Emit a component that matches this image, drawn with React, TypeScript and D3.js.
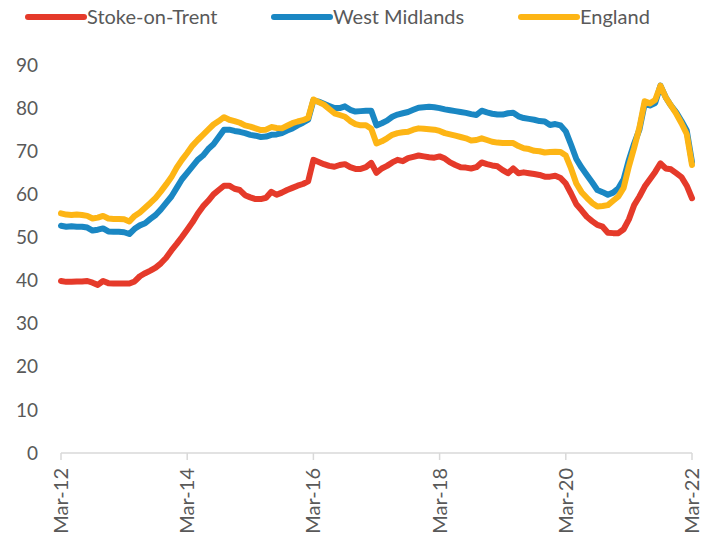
import React, { useEffect, useRef } from 'react';
import * as d3 from 'd3';

// monthly values, Mar-12 .. Mar-22 (121 months)
const stokeOnTrent: number[] = [
  39.9, 39.7, 39.7, 39.8, 39.8, 39.9, 39.5, 39.0, 39.9, 39.4, 39.3, 39.3, 39.3, 39.3, 39.8,
  41.0, 41.7, 42.3, 43.0, 44.0, 45.3, 47.0, 48.5, 50.1, 51.8, 53.5, 55.5, 57.2, 58.5, 60.0,
  61.0, 62.0, 62.0, 61.3, 61.0, 59.8, 59.3, 58.9, 58.9, 59.2, 60.6, 59.9, 60.4, 61.0, 61.5,
  62.0, 62.4, 63.0, 68.0, 67.5, 67.0, 66.6, 66.4, 66.8, 67.0, 66.3, 65.9, 65.9, 66.3, 67.3,
  65.0, 66.0, 66.6, 67.4, 68.0, 67.7, 68.4, 68.7, 69.0, 68.8, 68.6, 68.5, 68.8, 68.3, 67.4,
  66.8, 66.3, 66.2, 66.0, 66.3, 67.4, 67.0, 66.7, 66.5, 65.6, 64.9, 66.0, 64.9, 65.1, 64.9,
  64.7, 64.5, 64.1, 64.1, 64.3, 63.8, 62.5, 60.2, 57.7, 56.3, 54.8, 53.8, 52.9, 52.5, 51.1,
  51.0, 51.0, 51.9, 54.2, 57.5, 59.5, 61.8, 63.5, 65.2, 67.2, 66.0, 65.8, 64.9, 64.0, 62.0,
  59.1,
];

const westMidlands: number[] = [
  52.7, 52.5, 52.6, 52.5, 52.5, 52.3, 51.6, 51.8, 52.1, 51.4, 51.3, 51.3, 51.2, 50.8, 52.0,
  52.8, 53.3, 54.3, 55.2, 56.5, 58.0, 59.5, 61.5, 63.5, 65.0, 66.5, 68.0, 69.0, 70.5, 71.6,
  73.3, 75.0, 75.0, 74.7, 74.5, 74.2, 73.8, 73.6, 73.3, 73.4, 73.8, 73.9, 74.2, 74.8, 75.3,
  76.0, 76.6, 77.3, 81.8, 81.5, 81.0, 80.5, 80.0, 80.0, 80.4, 79.6, 79.2, 79.3, 79.4, 79.4,
  76.0, 76.5, 77.1, 78.0, 78.5, 78.8, 79.1, 79.6, 80.1, 80.2, 80.3, 80.2, 80.0, 79.7, 79.5,
  79.3, 79.1, 78.9, 78.6, 78.4, 79.4, 79.0, 78.7, 78.5, 78.5, 78.8, 78.9, 78.1, 77.7, 77.5,
  77.3, 77.0, 76.9, 76.1, 76.3, 76.0, 74.6, 71.5, 68.2, 66.2, 64.5, 62.8, 61.0, 60.5, 59.9,
  60.4, 61.4, 63.5, 68.0, 71.8, 75.0, 81.0, 80.6, 81.2, 85.2, 82.5, 80.6, 79.0, 77.0, 74.8,
  67.5,
];

const england: number[] = [
  55.6, 55.3, 55.2, 55.3, 55.2, 55.0, 54.4, 54.6, 55.0, 54.4, 54.3, 54.3, 54.2, 53.7, 55.0,
  55.8, 56.9, 58.0, 59.2, 60.7, 62.3, 64.0, 66.2, 68.0, 69.6, 71.3, 72.6, 73.8, 75.0, 76.2,
  77.0, 77.9, 77.3, 77.0, 76.6, 76.0, 75.7, 75.3, 74.9, 75.0, 75.6, 75.4, 75.3, 75.9, 76.5,
  76.9, 77.2, 77.7, 82.0, 81.4, 80.8, 79.8, 78.8, 78.4, 78.0, 77.0, 76.3, 76.0, 76.0, 75.2,
  71.8, 72.3, 73.0, 73.8, 74.2, 74.4, 74.5, 75.0, 75.3, 75.2, 75.1, 75.0, 74.7, 74.2, 73.9,
  73.6, 73.3, 73.0, 72.5, 72.6, 73.0, 72.6, 72.2, 72.0, 71.9, 71.9, 71.9, 71.2, 70.7, 70.5,
  70.1, 70.0, 69.7, 69.8, 69.9, 69.8, 69.0, 66.0, 62.5, 60.5, 59.2, 58.0, 57.2, 57.3, 57.5,
  58.5, 59.5, 61.5, 66.5, 70.8, 75.5, 81.6, 81.1, 81.9, 85.2, 82.5, 80.6, 78.7, 76.5, 74.0,
  66.8,
];

const tickMonths = [0, 24, 48, 72, 96, 120];
const tickLabels = ['Mar-12', 'Mar-14', 'Mar-16', 'Mar-18', 'Mar-20', 'Mar-22'];
const yTicks = [0, 10, 20, 30, 40, 50, 60, 70, 80, 90];

const series = [
  { name: 'Stoke-on-Trent', values: stokeOnTrent, color: '#E53A2A' },
  { name: 'West Midlands', values: westMidlands, color: '#1A87C3' },
  { name: 'England', values: england, color: '#FDB515' },
];

const W = 713;
const H = 535;
const FONT = 'Lato, "Open Sans", sans-serif';
const TEXT = '#595959';

const App: React.FC = () => {
  const svgRef = useRef<SVGSVGElement | null>(null);

  useEffect(() => {
    const svg = d3.select(svgRef.current);
    svg.selectAll('*').remove();

    const x = d3.scaleLinear().domain([0, 120]).range([61, 692]);
    const y = d3.scaleLinear().domain([0, 90]).range([453, 65]);

    // y labels (no gridlines)
    svg.append('g')
      .selectAll('text')
      .data(yTicks)
      .enter()
      .append('text')
      .attr('x', 38)
      .attr('y', d => y(d))
      .attr('dy', '0.35em')
      .attr('text-anchor', 'end')
      .attr('font-family', FONT)
      .attr('font-size', 19)
      .attr('fill', TEXT)
      .text(d => d);

    // x axis line + ticks
    svg.append('line')
      .attr('x1', x(0)).attr('x2', x(120))
      .attr('y1', y(0)).attr('y2', y(0))
      .attr('stroke', '#D9D9D9').attr('stroke-width', 1.5);

    svg.append('g')
      .selectAll('line')
      .data(tickMonths)
      .enter()
      .append('line')
      .attr('x1', d => x(d)).attr('x2', d => x(d))
      .attr('y1', y(0)).attr('y2', y(0) + 7)
      .attr('stroke', '#D9D9D9').attr('stroke-width', 1.5);

    svg.append('g')
      .selectAll('text')
      .data(tickMonths)
      .enter()
      .append('text')
      .attr('transform', d => `translate(${x(d)},${y(0) + 15}) rotate(-90)`)
      .attr('dy', '0.35em')
      .attr('text-anchor', 'end')
      .attr('font-family', FONT)
      .attr('font-size', 20)
      .attr('fill', TEXT)
      .text((d, i) => tickLabels[i]);

    // lines
    const line = d3.line<number>()
      .x((d, i) => x(i))
      .y(d => y(d))
      .curve(d3.curveLinear);

    svg.append('g')
      .selectAll('path')
      .data(series)
      .enter()
      .append('path')
      .attr('d', s => line(s.values))
      .attr('fill', 'none')
      .attr('stroke', s => s.color)
      .attr('stroke-width', 6)
      .attr('stroke-linejoin', 'round')
      .attr('stroke-linecap', 'round');

    // legend
    const legendX = [28, 274, 521];
    const lg = svg.append('g')
      .selectAll('g')
      .data(series)
      .enter()
      .append('g')
      .attr('transform', (s, i) => `translate(${legendX[i]},17)`);
    lg.append('line')
      .attr('x1', 0).attr('x2', 56).attr('y1', 0).attr('y2', 0)
      .attr('stroke', s => s.color)
      .attr('stroke-width', 6)
      .attr('stroke-linecap', 'round');
    lg.append('text')
      .attr('x', 59)
      .attr('y', 0)
      .attr('dy', '0.35em')
      .attr('font-family', FONT)
      .attr('font-size', 20)
      .attr('fill', TEXT)
      .text(s => s.name);
  }, []);

  return (
    <svg
      ref={svgRef}
      width={W}
      height={H}
      style={{ position: 'absolute', left: 0, top: 0, background: '#fff' }}
    />
  );
};

export default App;
